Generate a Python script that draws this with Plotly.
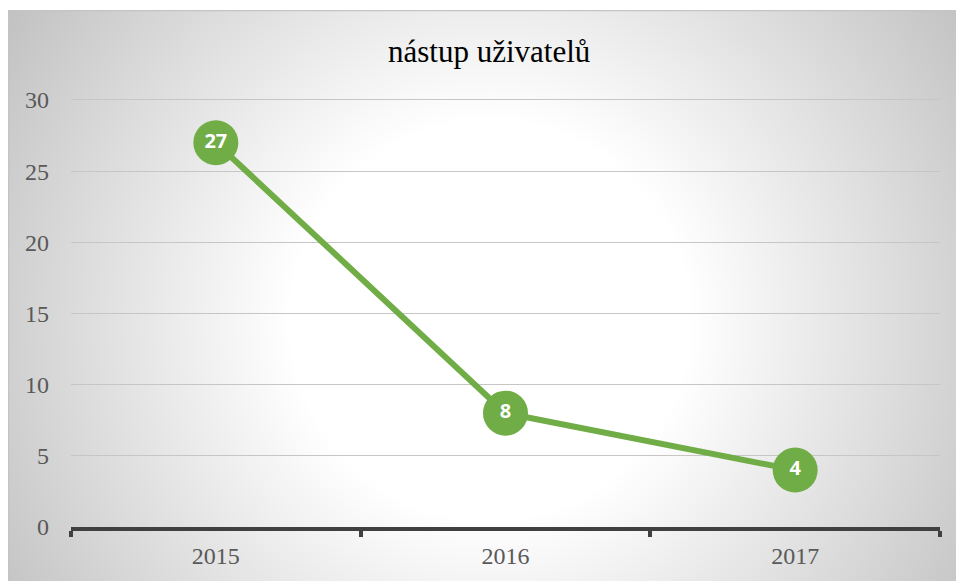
import base64
import plotly.graph_objects as go

# ---- data ----
years = ["2015", "2016", "2017"]
users = [27, 8, 4]
y_ticks = [0, 5, 10, 15, 20, 25, 30]
title_text = "nástup uživatelů"

W, H = 956, 581
GREEN = "#70ad47"

# background panel with radial gradient (chart area of the original)
px0, py0 = 8, 10
pw, ph = W + 20 - px0, H + 20 - py0
svg = f'''<svg xmlns="http://www.w3.org/2000/svg" width="{pw}" height="{ph}" viewBox="0 0 {pw} {ph}">
<defs><radialGradient id="g" gradientUnits="userSpaceOnUse" cx="{490 - px0}" cy="{320 - py0}" r="600">
<stop offset="0" stop-color="#ffffff"/><stop offset="0.33" stop-color="#ffffff"/>
<stop offset="1" stop-color="#bdbdbd"/></radialGradient></defs>
<rect x="0" y="0" width="{pw}" height="{ph}" fill="url(#g)"/>
<rect x="0.5" y="0.5" width="{pw}" height="{ph}" fill="none" stroke="#c4c4c4" stroke-width="1.5"/>
</svg>'''
src = "data:image/svg+xml;base64," + base64.b64encode(svg.encode()).decode()

x_left, x_right = 71, 940
y_top30, y_bot = 100, 527
ppu = (y_bot - y_top30) / 30.0
ymax = 30.4
y_top = y_bot - ymax * ppu

fig = go.Figure()
fig.add_trace(go.Scatter(
    x=years, y=users, mode="lines+markers+text",
    line=dict(color=GREEN, width=6),
    marker=dict(color=GREEN, size=45, line=dict(width=0)),
    text=[str(v) for v in users], textposition="middle center",
    textfont=dict(family="Open Sans", size=20, color="white", weight="bold"),
    cliponaxis=False, hoverinfo="skip", showlegend=False,
))

fig.update_layout(
    width=W, height=H,
    margin=dict(l=0, r=0, t=0, b=0, autoexpand=False),
    paper_bgcolor="white", plot_bgcolor="rgba(0,0,0,0)",
    images=[dict(source=src, xref="paper", yref="paper",
                 x=px0 / W, y=1 - py0 / H, sizex=pw / W, sizey=ph / H,
                 xanchor="left", yanchor="top", sizing="stretch", layer="below")],
    xaxis=dict(
        domain=[x_left / W, x_right / W],
        type="category", range=[-0.5, 2.5], automargin=False,
        showline=True, linecolor="#404040", linewidth=3.5,
        ticks="outside", tickson="boundaries", ticklen=6, tickwidth=3.5, tickcolor="#404040",
        showgrid=False, zeroline=False,
        tickfont=dict(family="Liberation Serif", size=24, color="#595959"),
        ticklabelstandoff=4,
    ),
    yaxis=dict(
        domain=[1 - y_bot / H, 1 - y_top / H],
        range=[0, ymax], tickvals=y_ticks, automargin=False,
        showgrid=True, gridcolor="#c6c6c6", gridwidth=1.3,
        zeroline=False, showline=False, ticks="",
        tickfont=dict(family="Liberation Serif", size=24, color="#595959"),
        ticklabelstandoff=21,
    ),
    annotations=[dict(text=title_text, xref="paper", yref="paper",
                      x=489 / W, y=1 - 52 / H, showarrow=False,
                      xanchor="center", yanchor="middle",
                      font=dict(family="Liberation Serif", size=31, color="black"))],
)

fig.write_html("out.html",
               config={"displayModeBar": False},
               post_script="document.body.style.margin='0';document.body.style.overflow='hidden';")
